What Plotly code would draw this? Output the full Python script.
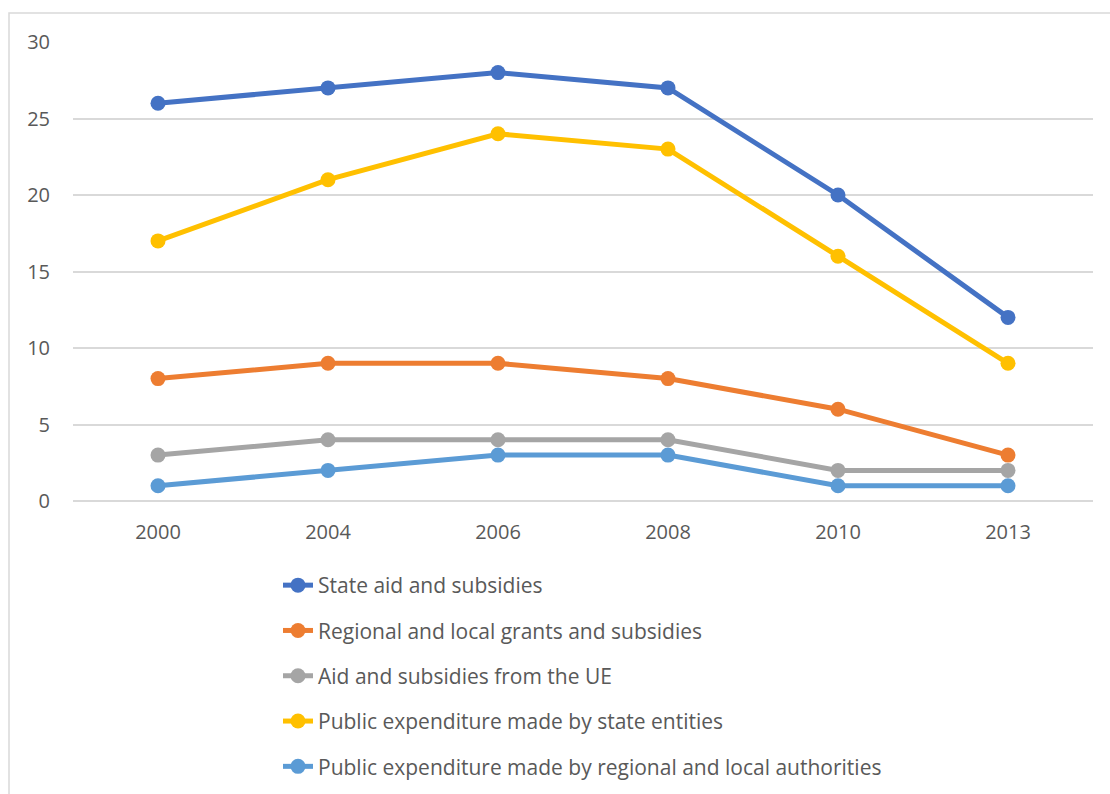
import plotly.graph_objects as go

years = ["2000", "2004", "2006", "2008", "2010", "2013"]

state_aid = [26, 27, 28, 27, 20, 12]
regional_grants = [8, 9, 9, 8, 6, 3]
eu_aid = [3, 4, 4, 4, 2, 2]
public_state = [17, 21, 24, 23, 16, 9]
public_regional = [1, 2, 3, 3, 1, 1]

series_names = [
    "State aid and subsidies",
    "Regional and local grants and subsidies",
    "Aid and subsidies from the UE",
    "Public expenditure made by state entities",
    "Public expenditure made by regional and local authorities",
]
series_values = [state_aid, regional_grants, eu_aid, public_state, public_regional]
colors = ["#4472C4", "#ED7D31", "#A5A5A5", "#FFC000", "#5B9BD5"]

# draw order: lower series first so the top lines sit above them
draw_order = [4, 2, 1, 3, 0]

fig = go.Figure()
for i in draw_order:
    fig.add_trace(go.Scatter(
        x=years, y=series_values[i], name=series_names[i],
        mode="lines+markers",
        line=dict(color=colors[i], width=5),
        marker=dict(color=colors[i], size=15),
        legendgroup=f"g{i}", legendrank=i + 1,
    ))

W, H = 1110, 794
ml, mr, mt, mb = 73, 17, 42, 293
pw, ph = W - ml - mr, H - mt - mb

fig.update_layout(
    width=W, height=H,
    margin=dict(l=ml, r=mr, t=mt, b=mb, autoexpand=False),
    paper_bgcolor="white", plot_bgcolor="white",
    font=dict(family="Open Sans", color="#595959", size=19),
    showlegend=True,
    legend=dict(
        x=(278 - ml) / pw, xanchor="left",
        y=(H - mb - 565) / ph, yanchor="top",
        traceorder="grouped", tracegroupgap=15,
        font=dict(size=21, color="#595959"),
        bgcolor="rgba(0,0,0,0)",
    ),
    xaxis=dict(
        type="category", range=[-0.5, 5.5],
        showgrid=False, zeroline=False, showline=False,
        ticks="", tickfont=dict(size=20, color="#595959"),
        ticklabelstandoff=17,
    ),
    yaxis=dict(
        range=[0, 30], dtick=5, tick0=0,
        showgrid=True, gridcolor="#D9D9D9", gridwidth=1.5,
        zeroline=True, zerolinecolor="#D9D9D9", zerolinewidth=1.5,
        showline=False, ticks="",
        tickfont=dict(size=20, color="#595959"),
        ticklabelstandoff=22,
    ),
)

# chart area border
fig.add_shape(
    type="rect", xref="paper", yref="paper",
    x0=(9 - ml) / pw, x1=(W + 20 - ml) / pw,
    y0=(H - mb - (H + 20)) / ph, y1=(H - mb - 13) / ph,
    line=dict(color="#D9D9D9", width=1.5), layer="below",
)

fig.write_html("out.html")
